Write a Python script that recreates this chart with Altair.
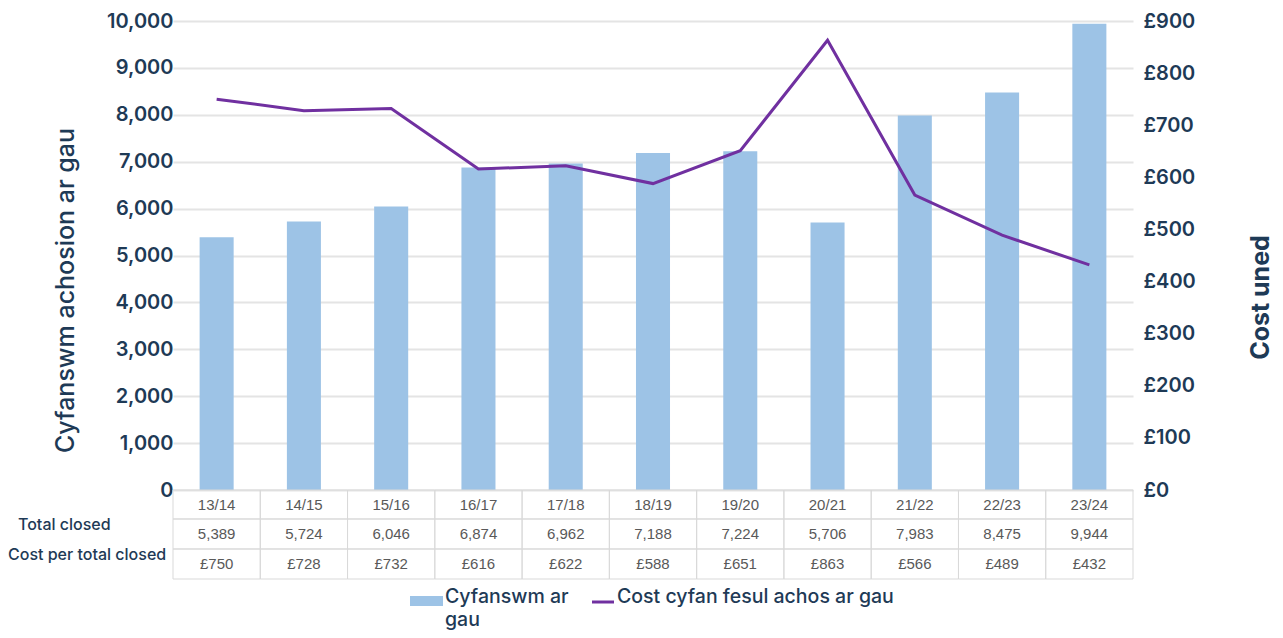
import altair as alt
import pandas as pd

years = ["13/14", "14/15", "15/16", "16/17", "17/18", "18/19", "19/20", "20/21", "21/22", "22/23", "23/24"]
total_closed = [5389, 5724, 6046, 6874, 6962, 7188, 7224, 5706, 7983, 8475, 9944]
cost_per_closed = [750, 728, 732, 616, 622, 588, 651, 863, 566, 489, 432]

row_labels = ["Total closed", "Cost per total closed"]
legend_bar = ["Cyfanswm ar", "gau"]
legend_line = "Cost cyfan fesul achos ar gau"
left_title = "Cyfanswm achosion ar gau"
right_title = "Cost uned"

df = pd.DataFrame({"year": years, "total": total_closed, "cost": cost_per_closed})

NAVY = "#1e3a56"
FONT = "Inter"
BAR = "#9dc3e6"
LINE = "#7030a0"
GRIDC = "#d9d9d9"

x_enc = alt.X("year:N", sort=years,
              scale=alt.Scale(domain=years, paddingInner=0, paddingOuter=0),
              axis=None)

base = alt.Chart(df)

left_axis = alt.Axis(values=list(range(0, 10001, 1000)), labelExpr="format(datum.value, ',')",
                     title=left_title,
                     grid=True, gridColor="#e4e4e4", gridWidth=2, domain=False, ticks=False,
                     labelFont=FONT, labelFontSize=20, labelFontWeight=600, labelColor=NAVY,
                     labelPadding=0, titleFont=FONT, titleFontSize=25, titleFontWeight=500,
                     titleColor=NAVY, titleAngle=-90, titleX=-108, titleY=269,
                     titleAlign="center", titleBaseline="middle")

right_axis = alt.Axis(orient="right", values=list(range(0, 901, 100)),
                      labelExpr="'£' + datum.value", title=right_title,
                      grid=False, domain=False, ticks=False,
                      labelFont=FONT, labelFontSize=20, labelFontWeight=600, labelColor=NAVY,
                      labelPadding=10, titleFont=FONT, titleFontSize=25, titleFontWeight=700,
                      titleColor=NAVY, titleAngle=-90, titleX=127, titleY=276,
                      titleAlign="center", titleBaseline="middle")

bars = base.mark_bar(color=BAR, width=alt.RelativeBandSize(0.39)).encode(
    x=x_enc,
    y=alt.Y("total:Q", scale=alt.Scale(domain=[0, 10000]), axis=left_axis),
)

line = base.mark_line(color=LINE, strokeWidth=3).encode(
    x=x_enc,
    y=alt.Y("cost:Q", scale=alt.Scale(domain=[0, 900]), axis=right_axis),
)


def cell_row(y0, y1):
    return base.mark_rect(fill="white", fillOpacity=0, stroke=GRIDC, strokeWidth=1).encode(
        x=x_enc, y=alt.value(y0), y2=alt.value(y1))


cells = [cell_row(469, 498), cell_row(498, 528), cell_row(528, 558)]

tstyle = dict(font="Liberation Sans", fontSize=15, color="#595959", baseline="middle", align="center")
t_year = base.mark_text(**tstyle).encode(x=x_enc, y=alt.value(484), text="year:N")
t_total = base.mark_text(**tstyle).encode(x=x_enc, y=alt.value(513), text=alt.Text("total:Q", format=",.0f"))
t_cost = base.transform_calculate(lab="'£' + datum.cost").mark_text(**tstyle).encode(
    x=x_enc, y=alt.value(543), text="lab:N")

lab_df1 = pd.DataFrame({"label": [row_labels[0]]})
lab_df2 = pd.DataFrame({"label": [row_labels[1]]})
lstyle = dict(font=FONT, fontSize=16, fontWeight=500, color=NAVY, baseline="middle", align="left")
r1 = alt.Chart(lab_df1).mark_text(**lstyle).encode(x=alt.value(-155), y=alt.value(504), text="label:N")
r2 = alt.Chart(lab_df2).mark_text(**lstyle).encode(x=alt.value(-165), y=alt.value(534), text="label:N")

# legend
one = pd.DataFrame({"k": [0]})
sw_bar = alt.Chart(one).mark_rect(color=BAR).encode(
    x=alt.value(237), x2=alt.value(270), y=alt.value(575), y2=alt.value(585))
sw_line = alt.Chart(one).mark_rule(color=LINE, strokeWidth=3).encode(
    x=alt.value(419), x2=alt.value(441), y=alt.value(581))
gstyle = dict(font=FONT, fontSize=19.5, fontWeight=500, color=NAVY, baseline="alphabetic", align="left")
lg1 = alt.Chart(one).mark_text(text=legend_bar, lineHeight=23, **gstyle).encode(
    x=alt.value(272), y=alt.value(582))
lg3 = alt.Chart(pd.DataFrame({"t": [legend_line]})).mark_text(**gstyle).encode(
    x=alt.value(444), y=alt.value(582), text="t:N")

chart = alt.layer(bars, line, *cells, t_year, t_total, t_cost, r1, r2,
                  sw_bar, sw_line, lg1, lg3).resolve_scale(
    y="independent"
).properties(
    width=960, height=469,
    autosize=alt.AutoSizeParams(type="none"),
    padding={"left": 165, "top": 13, "right": 142, "bottom": 140},
).configure_view(stroke=None)

chart.save("out.html", embed_options={"renderer": "svg", "actions": False})
